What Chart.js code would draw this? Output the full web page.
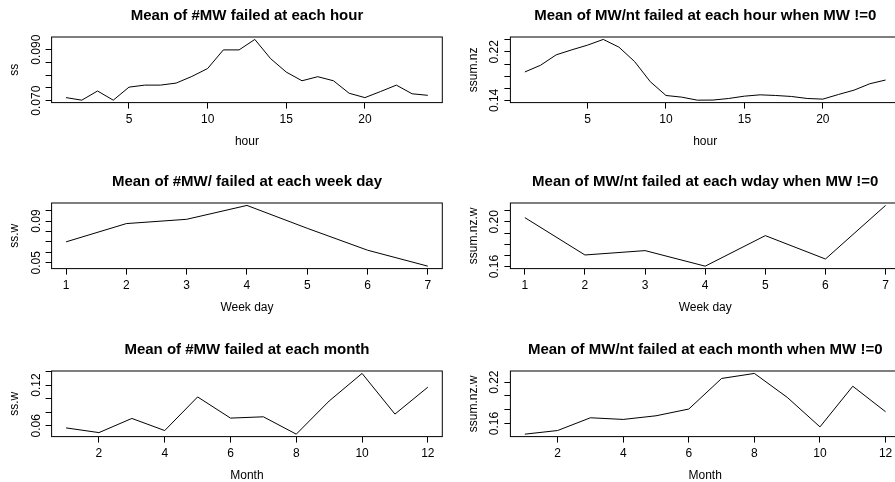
<!DOCTYPE html>
<html>
<head>
<meta charset="utf-8">
<script src="https://cdn.jsdelivr.net/npm/chart.js@4.4.1/dist/chart.umd.min.js"></script>
<style>
  html, body { margin: 0; padding: 0; background: #fff; overflow: hidden; }
  #wrap { position: relative; width: 895px; height: 482px; overflow: hidden; background: #fff; }
  #wrap canvas { position: absolute; }
</style>
</head>
<body>
<div id="wrap"></div>
<script>
// ---- data ----
const hours = [1,2,3,4,5,6,7,8,9,10,11,12,13,14,15,16,17,18,19,20,21,22,23,24];
const ssHour = [0.0712,0.0702,0.0738,0.0702,0.0753,0.0761,0.0761,0.0769,0.0795,0.0826,0.0899,0.0899,
                0.0940,0.0865,0.0812,0.0778,0.0794,0.0778,0.0729,0.0712,0.0736,0.0761,0.0727,0.0721];
const ssumNzHour = [0.1869,0.1979,0.2151,0.2234,0.2311,0.2405,0.2278,0.2040,0.1708,0.1481,0.1454,0.1404,
                    0.1406,0.1432,0.1470,0.1492,0.1481,0.1465,0.1432,0.1421,0.1498,0.1570,0.1675,0.1736];

const weekDays = [1,2,3,4,5,6,7];
const ssWday = [0.0701,0.0876,0.0917,0.1050,0.0831,0.0621,0.0468];
const ssumNzWday = [0.2038,0.1704,0.1743,0.1604,0.1877,0.1668,0.2147];

const months = [1,2,3,4,5,6,7,8,9,10,11,12];
const ssMonth = [0.0570,0.0501,0.0709,0.0531,0.1025,0.0714,0.0733,0.0478,0.0965,0.1370,0.0773,0.1168];
const ssumNzMonth = [0.1445,0.1498,0.1683,0.1659,0.1712,0.1810,0.2254,0.2327,0.1980,0.1551,0.2141,0.1771];

// ---- axis ticks ----
const hourTicks = [5,10,15,20];
const wdayTicks = [1,2,3,4,5,6,7];
const monthTicks = [2,4,6,8,10,12];

const ssHourTicks = [0.070,0.075,0.080,0.085,0.090];
const ssHourLabels = ['0.070','0.090'];
const ssumNzHourTicks = [0.14,0.16,0.18,0.20,0.22,0.24];
const ssumNzHourLabels = ['0.14','0.22'];
const ssWdayTicks = [0.05,0.06,0.07,0.08,0.09,0.10];
const ssWdayLabels = ['0.05','0.09'];
const ssumNzWdayTicks = [0.16,0.17,0.18,0.19,0.20,0.21];
const ssumNzWdayLabels = ['0.16','0.20'];
const ssMonthTicks = [0.06,0.08,0.10,0.12,0.14];
const ssMonthLabels = ['0.06','0.12'];
const ssumNzMonthTicks = [0.16,0.18,0.20,0.22];
const ssumNzMonthLabels = ['0.16','0.22'];

// ---- panel layout (3 rows x 2 columns) ----
const FONT = 'Liberation Sans';
const CANVAS_W = 460, CANVAS_H = 167;
const rowTop = [0, 166, 334];
const cols = [
  { left: 0,   axisW: 51.6, padR: 17.7 },
  { left: 459, axisW: 51.4, padR: 19 }
];
const X_AXIS_H = 64.4;

const panels = [
  { row: 0, col: 0, title: 'Mean of #MW failed at each hour', xs: hours, ys: ssHour,
    xTitle: 'hour', yTitle: 'ss', xTicks: hourTicks, yTicks: ssHourTicks, yLabels: ssHourLabels },
  { row: 0, col: 1, title: 'Mean of MW/nt failed at each hour when MW !=0', xs: hours, ys: ssumNzHour,
    xTitle: 'hour', yTitle: 'ssum.nz', xTicks: hourTicks, yTicks: ssumNzHourTicks, yLabels: ssumNzHourLabels },
  { row: 1, col: 0, title: 'Mean of #MW/ failed at each week day', xs: weekDays, ys: ssWday,
    xTitle: 'Week day', yTitle: 'ss.w', xTicks: wdayTicks, yTicks: ssWdayTicks, yLabels: ssWdayLabels },
  { row: 1, col: 1, title: 'Mean of MW/nt failed at each wday when MW !=0', xs: weekDays, ys: ssumNzWday,
    xTitle: 'Week day', yTitle: 'ssum.nz.w', xTicks: wdayTicks, yTicks: ssumNzWdayTicks, yLabels: ssumNzWdayLabels },
  { row: 2, col: 0, title: 'Mean of #MW failed at each month', xs: months, ys: ssMonth,
    xTitle: 'Month', yTitle: 'ss.w', xTicks: monthTicks, yTicks: ssMonthTicks, yLabels: ssMonthLabels },
  { row: 2, col: 1, title: 'Mean of MW/nt failed at each month when MW !=0', xs: months, ys: ssumNzMonth,
    xTitle: 'Month', yTitle: 'ssum.nz.w', xTicks: monthTicks, yTicks: ssumNzMonthTicks, yLabels: ssumNzMonthLabels }
];

// axis range extended 4% beyond the data on each side
function paddedRange(arr) {
  const lo = Math.min(...arr), hi = Math.max(...arr), d = (hi - lo) * 0.04;
  return [lo - d, hi + d];
}

// plot frame plus rotated y tick labels
const frameAndYLabels = {
  id: 'frameAndYLabels',
  afterDraw(chart, args, opts) {
    const { ctx, chartArea: a } = chart;
    const ys = chart.scales.y;
    ctx.save();
    ctx.strokeStyle = '#000';
    ctx.lineWidth = 1;
    ctx.strokeRect(a.left, a.top, a.right - a.left, a.bottom - a.top);
    ctx.fillStyle = '#000';
    ctx.font = '12px "' + FONT + '"';
    ctx.textAlign = 'center';
    ctx.textBaseline = 'alphabetic';
    for (const lab of opts.labels) {
      const py = ys.getPixelForValue(parseFloat(lab));
      ctx.save();
      ctx.translate(a.left - 12, py);
      ctx.rotate(-Math.PI / 2);
      ctx.fillText(lab, 0, 0);
      ctx.restore();
    }
    ctx.restore();
  }
};

Chart.defaults.font.family = FONT;
Chart.defaults.color = '#000';

const wrap = document.getElementById('wrap');
for (const p of panels) {
  const c = cols[p.col];
  const canvas = document.createElement('canvas');
  canvas.width = CANVAS_W;
  canvas.height = CANVAS_H;
  canvas.style.left = c.left + 'px';
  canvas.style.top = rowTop[p.row] + 'px';
  canvas.style.width = CANVAS_W + 'px';
  canvas.style.height = CANVAS_H + 'px';
  wrap.appendChild(canvas);

  const [xMin, xMax] = paddedRange(p.xs);
  const [yMin, yMax] = paddedRange(p.ys);

  new Chart(canvas, {
    type: 'line',
    data: {
      datasets: [{
        data: p.xs.map((x, i) => ({ x: x, y: p.ys[i] })),
        borderColor: '#000',
        borderWidth: 1,
        pointRadius: 0,
        fill: false,
        tension: 0
      }]
    },
    plugins: [frameAndYLabels],
    options: {
      responsive: false,
      animation: false,
      events: [],
      layout: { padding: { left: 0, right: c.padR, top: 0, bottom: 0 } },
      plugins: {
        legend: { display: false },
        tooltip: { enabled: false },
        title: {
          display: true,
          text: p.title,
          fullSize: false,
          color: '#000',
          font: { family: FONT, size: 15, weight: 'bold', lineHeight: 1.2 },
          padding: { top: 7, bottom: 12 }
        },
        frameAndYLabels: { labels: p.yLabels }
      },
      scales: {
        x: {
          type: 'linear',
          min: xMin,
          max: xMax,
          afterBuildTicks: s => { s.ticks = p.xTicks.map(v => ({ value: v })); },
          afterFit: s => { s.height = X_AXIS_H; },
          grid: { drawOnChartArea: false, drawTicks: true, tickLength: 6, color: '#000', lineWidth: 1 },
          border: { display: false },
          ticks: {
            color: '#000', font: { family: FONT, size: 12 }, padding: 3.5,
            maxRotation: 0, autoSkip: false, callback: v => String(v)
          },
          title: {
            display: true, text: p.xTitle, color: '#000',
            font: { family: FONT, size: 12, lineHeight: 1.2 },
            padding: { top: 0, bottom: 18.2 }
          }
        },
        y: {
          type: 'linear',
          min: yMin,
          max: yMax,
          afterBuildTicks: s => { s.ticks = p.yTicks.map(v => ({ value: v })); },
          afterFit: s => { s.width = c.axisW; },
          grid: { drawOnChartArea: false, drawTicks: true, tickLength: 6, color: '#000', lineWidth: 1 },
          border: { display: false },
          ticks: { display: false },
          title: {
            display: true, text: p.yTitle, color: '#000',
            font: { family: FONT, size: 12, lineHeight: 1.2 },
            padding: { top: 7.7, bottom: 0 }
          }
        }
      }
    }
  });
}
</script>
</body>
</html>
